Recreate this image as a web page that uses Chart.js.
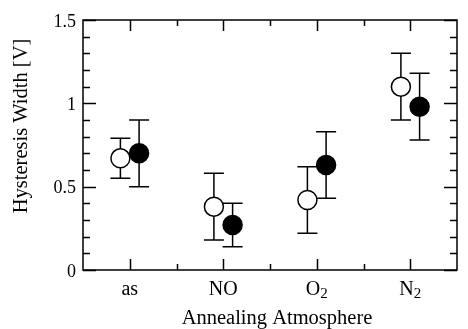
<!DOCTYPE html>
<html>
<head>
<meta charset="utf-8">
<script src="https://cdn.jsdelivr.net/npm/chart.js@4/dist/chart.umd.min.js"></script>
<style>
  html, body { margin: 0; padding: 0; background: #fff; }
  #wrap { width: 468px; height: 329px; }
</style>
</head>
<body>
<div id="wrap"><canvas id="chart" width="468" height="329"></canvas></div>
<script>
// Hysteresis width vs annealing atmosphere
const categories = ['as', 'NO', 'O', 'N'];
const categorySubs = ['', '', '2', '2'];
const categoryPos = [1, 2, 3, 4];
const pointOffset = 0.1;

// open circles (left of each category)
const openValues = [0.67, 0.38, 0.42, 1.10];
const openLow    = [0.55, 0.18, 0.22, 0.90];
const openHigh   = [0.79, 0.58, 0.62, 1.30];

// filled circles (right of each category)
const filledValues = [0.70, 0.27, 0.63, 0.98];
const filledLow    = [0.50, 0.14, 0.43, 0.78];
const filledHigh   = [0.90, 0.40, 0.83, 1.18];

const yTicks = [0, 0.5, 1, 1.5];
const yTickLabels = ['0', '0.5', '1', '1.5'];

const xTitle = 'Annealing Atmosphere';
const yTitle = 'Hysteresis Width [V]';

const FONT = '"Liberation Serif", "DejaVu Serif", serif';

function buildPoints(values, low, high, dx) {
    return values.map((v, i) => ({ x: categoryPos[i] + dx, y: v, lo: low[i], hi: high[i] }));
}

// Error bars, inward ticks on all four sides, category labels and titles
const framePlugin = {
    id: 'frame',
    beforeDatasetsDraw(chart) {
        const ctx = chart.ctx;
        const xs = chart.scales.x, ys = chart.scales.y;
        ctx.save();
        ctx.strokeStyle = '#000';
        ctx.lineWidth = 1.5;
        chart.data.datasets.forEach(ds => {
            ds.data.forEach(p => {
                const px = xs.getPixelForValue(p.x);
                const yl = ys.getPixelForValue(p.lo);
                const yh = ys.getPixelForValue(p.hi);
                ctx.beginPath();
                ctx.moveTo(px, yl); ctx.lineTo(px, yh);
                ctx.moveTo(px - 10, yl); ctx.lineTo(px + 10, yl);
                ctx.moveTo(px - 10, yh); ctx.lineTo(px + 10, yh);
                ctx.stroke();
            });
        });
        ctx.restore();
    },
    afterDraw(chart) {
        const ctx = chart.ctx;
        const a = chart.chartArea;
        const xs = chart.scales.x, ys = chart.scales.y;
        ctx.save();
        ctx.strokeStyle = '#000';
        ctx.lineWidth = 1.5;
        ctx.beginPath();
        ctx.rect(a.left, a.top, a.right - a.left, a.bottom - a.top);
        ctx.stroke();
        ctx.beginPath();
        // y ticks every 0.1, major every 0.5
        for (let k = 0; k <= 15; k++) {
            const py = Math.round(ys.getPixelForValue(k / 10)) + 0.5;
            const len = (k % 5 === 0) ? 13 : 7;
            ctx.moveTo(a.left, py); ctx.lineTo(a.left + len, py);
            ctx.moveTo(a.right, py); ctx.lineTo(a.right - len, py);
        }
        // x ticks every 0.5, major on categories
        for (let v = 1; v < 4.5; v += 0.5) {
            const px = Math.round(xs.getPixelForValue(v)) + 0.5;
            const len = Number.isInteger(v) ? 11 : 6;
            ctx.moveTo(px, a.bottom); ctx.lineTo(px, a.bottom - len);
            ctx.moveTo(px, a.top); ctx.lineTo(px, a.top + len);
        }
        ctx.stroke();

        // category labels with subscripts
        ctx.fillStyle = '#000';
        ctx.textBaseline = 'alphabetic';
        ctx.textAlign = 'left';
        const mainFont = '20px ' + FONT;
        const subFont = '15px ' + FONT;
        const baseY = a.bottom + 25;
        categories.forEach((c, i) => {
            ctx.font = mainFont;
            const w1 = ctx.measureText(c).width;
            ctx.font = subFont;
            const w2 = categorySubs[i] ? ctx.measureText(categorySubs[i]).width : 0;
            const cx = xs.getPixelForValue(categoryPos[i]);
            const x0 = cx - (w1 + w2) / 2;
            ctx.font = mainFont;
            ctx.fillText(c, x0, baseY);
            if (categorySubs[i]) {
                ctx.font = subFont;
                ctx.fillText(categorySubs[i], x0 + w1, baseY + 3);
            }
        });

        // axis titles
        ctx.font = '20.5px ' + FONT;
        ctx.textAlign = 'center';
        ctx.fillText(xTitle, 277, 324);
        ctx.save();
        ctx.translate(22, 126);
        ctx.rotate(-Math.PI / 2);
        ctx.textBaseline = 'middle';
        ctx.fillText(yTitle, 0, 0);
        ctx.restore();
        ctx.restore();
    }
};

new Chart(document.getElementById('chart').getContext('2d'), {
    type: 'scatter',
    data: {
        datasets: [{
            label: 'open',
            data: buildPoints(openValues, openLow, openHigh, -pointOffset),
            pointRadius: 9.5,
            pointHoverRadius: 9.5,
            pointBackgroundColor: '#fff',
            pointBorderColor: '#000',
            pointBorderWidth: 1.5
        }, {
            label: 'filled',
            data: buildPoints(filledValues, filledLow, filledHigh, pointOffset),
            pointRadius: 9.5,
            pointHoverRadius: 9.5,
            pointBackgroundColor: '#000',
            pointBorderColor: '#000',
            pointBorderWidth: 1.5
        }]
    },
    options: {
        responsive: false,
        animation: false,
        devicePixelRatio: 1,
        layout: { padding: { left: 0, right: 1, top: 20, bottom: 0 } },
        plugins: {
            legend: { display: false },
            tooltip: { enabled: false }
        },
        scales: {
            x: {
                type: 'linear',
                min: 0.5,
                max: 4.5,
                border: { display: false },
                grid: { display: false, drawTicks: false },
                afterBuildTicks(scale) {
                    scale.ticks = categoryPos.map(v => ({ value: v }));
                },
                afterFit(scale) { scale.height = 59; },
                ticks: { display: false }
            },
            y: {
                min: 0,
                max: 1.5,
                border: { display: false },
                grid: { display: false, drawTicks: false, tickLength: 0 },
                afterBuildTicks(scale) {
                    scale.ticks = yTicks.map(v => ({ value: v }));
                },
                afterFit(scale) { scale.width = 83; },
                ticks: {
                    color: '#000',
                    padding: 7,
                    labelOffset: 2,
                    font: { family: FONT, size: 18 },
                    callback(value) {
                        const i = yTicks.indexOf(value);
                        return i >= 0 ? yTickLabels[i] : '';
                    }
                }
            }
        }
    },
    plugins: [framePlugin]
});
</script>
</body>
</html>
